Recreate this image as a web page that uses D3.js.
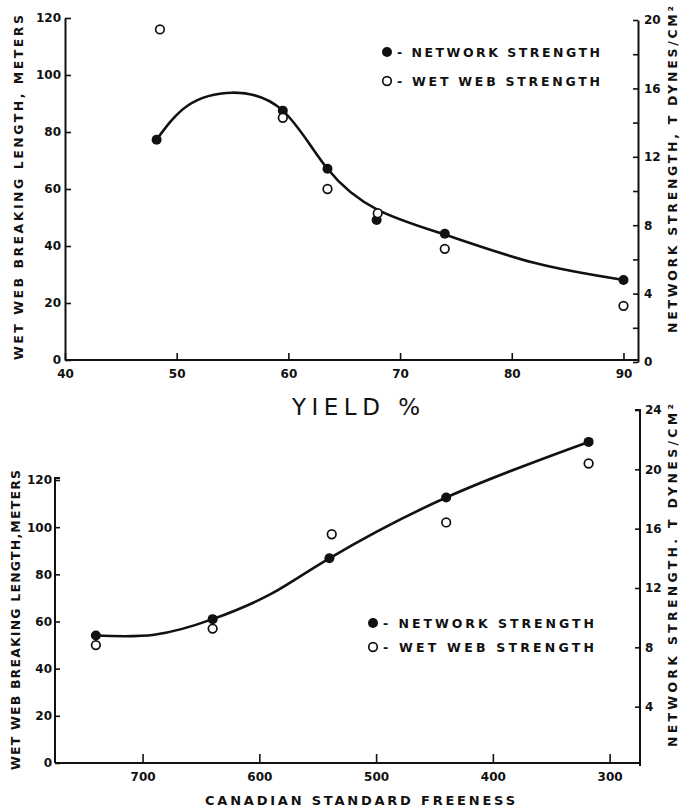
<!DOCTYPE html>
<html>
<head>
<meta charset="utf-8">
<script src="https://cdn.jsdelivr.net/npm/d3@7"></script>
<style>
  body { margin: 0; background: #fff; }
  svg { display: block; }
  .tick text { font-family: "DejaVu Sans", sans-serif; font-weight: bold; font-size: 12px; fill: #111; }
  .title { font-family: "DejaVu Sans", sans-serif; font-weight: bold; fill: #111; }
</style>
</head>
<body>
<div id="chart"></div>
<script>
// ---- top panel: yield % ----
const yieldPts = [48.2, 59.5, 63.5, 67.9, 74, 90];
const yieldNetwork = [13.0, 14.7, 11.3, 8.3, 7.5, 4.8];       // dynes/cm2 (filled)
const yieldWetX = [48.5, 59.5, 63.5, 68, 74, 90];
const yieldWetWeb = [116, 85, 60, 51.5, 39, 19];              // meters (open)
// hand drawn fit line
const yieldCurveX = [48.2, 51, 55, 59.5, 63.5, 68, 74, 82, 90];
const yieldCurveY = [13.0, 15.0, 15.75, 14.7, 11.3, 8.9, 7.45, 5.8, 4.8];

// ---- bottom panel: freeness ----
const freenessPts = [740, 640, 540, 440, 318];
const freeNetwork = [8.8, 9.9, 14.0, 18.1, 21.85];            // dynes/cm2 (filled)
const freeWetX = [740, 640, 538, 440, 318];
const freeWetWeb = [50, 57, 97, 102, 127];                     // meters (open)
const freeCurveX = [740, 690, 640, 590, 540, 440, 318];
const freeCurveY = [8.8, 8.85, 9.9, 11.6, 14.0, 18.1, 21.85];

const topXTicks = [40, 50, 60, 70, 80, 90];
const topLeftTicks = [0, 20, 40, 60, 80, 100, 120];
const topRightTicks = [0, 2, 4, 6, 8, 10, 12, 14, 16, 18, 20];
const botXTicks = [700, 600, 500, 400, 300];
const botLeftTicks = [0, 20, 40, 60, 80, 100, 120];
const botRightTicks = [4, 8, 12, 16, 20, 24];

const width = 682, height = 809;

const svg = d3.select("#chart").append("svg")
  .attr("width", width)
  .attr("height", height);

// scales
const xTop = d3.scaleLinear().domain([40, 91.3]).range([65, 638]);
const yTopL = d3.scaleLinear().domain([0, 120]).range([360, 18]);
const yTopR = d3.scaleLinear().domain([0, 20]).range([362, 20]);

const xBot = d3.scaleLinear().domain([775, 274]).range([55, 640]);
const yBotL = d3.scaleLinear().domain([0, 120]).range([763, 480]);
const yBotR = d3.scaleLinear().domain([0, 24]).range([766, 410]);

function styleAxis(g) {
  g.select(".domain").attr("stroke", "#111").attr("stroke-width", 2);
  g.selectAll(".tick line").attr("stroke", "#111").attr("stroke-width", 1.6);
}

// ---- top axes ----
svg.append("g")
  .attr("transform", "translate(0,360)")
  .call(d3.axisBottom(xTop).tickValues(topXTicks).tickSizeInner(-7).tickSizeOuter(0).tickPadding(9))
  .call(styleAxis)
  .call(g => g.select(".domain").attr("d", "M65,0H638"));

svg.append("g")
  .attr("transform", "translate(65,0)")
  .call(d3.axisLeft(yTopL).tickValues(topLeftTicks).tickSizeInner(-6).tickSizeOuter(0).tickPadding(4))
  .call(styleAxis);

svg.append("g")
  .attr("transform", "translate(638,0)")
  .call(d3.axisRight(yTopR).tickValues(topRightTicks).tickSizeInner(-5).tickSizeOuter(0).tickPadding(6)
    .tickFormat(d => d % 4 === 0 ? d : ""))
  .call(styleAxis);

// ---- bottom axes ----
svg.append("g")
  .attr("transform", "translate(0,763)")
  .call(d3.axisBottom(xBot).tickValues(botXTicks).tickSizeInner(-9).tickSizeOuter(0).tickPadding(9))
  .call(styleAxis)
  .call(g => g.select(".domain").attr("d", "M55,0H640"));

svg.append("g")
  .attr("transform", "translate(55,0)")
  .call(d3.axisLeft(yBotL).tickValues(botLeftTicks).tickSizeInner(-5).tickSizeOuter(0).tickPadding(3))
  .call(styleAxis)
  .call(g => g.select(".domain").attr("d", "M0,763V478H5"));

svg.append("g")
  .attr("transform", "translate(640,0)")
  .call(d3.axisRight(yBotR).tickValues(botRightTicks).tickSizeInner(-5).tickSizeOuter(0).tickPadding(5))
  .call(styleAxis)
  .call(g => g.select(".domain").attr("d", "M0,766V410H-5"));

// ---- curves ----
const topLine = d3.line()
  .x(d => xTop(d[0])).y(d => yTopR(d[1]))
  .curve(d3.curveNatural);
svg.append("path")
  .datum(d3.zip(yieldCurveX, yieldCurveY))
  .attr("d", topLine)
  .attr("fill", "none").attr("stroke", "#111").attr("stroke-width", 2.6);

const botLine = d3.line()
  .x(d => xBot(d[0])).y(d => yBotR(d[1]))
  .curve(d3.curveNatural);
svg.append("path")
  .datum(d3.zip(freeCurveX, freeCurveY))
  .attr("d", botLine)
  .attr("fill", "none").attr("stroke", "#111").attr("stroke-width", 2.6);

// ---- points ----
function filled(xs, ys, xs_, ys_) {
  svg.append("g").selectAll("circle")
    .data(d3.zip(xs, ys))
    .join("circle")
    .attr("cx", d => xs_(d[0])).attr("cy", d => ys_(d[1]))
    .attr("r", 5).attr("fill", "#111");
}
function open(xs, ys, xs_, ys_) {
  svg.append("g").selectAll("circle")
    .data(d3.zip(xs, ys))
    .join("circle")
    .attr("cx", d => xs_(d[0])).attr("cy", d => ys_(d[1]))
    .attr("r", 4.3).attr("fill", "#fff").attr("stroke", "#111").attr("stroke-width", 1.7);
}
filled(yieldPts, yieldNetwork, xTop, yTopR);
open(yieldWetX, yieldWetWeb, xTop, yTopL);
filled(freenessPts, freeNetwork, xBot, yBotR);
open(freeWetX, freeWetWeb, xBot, yBotL);

// ---- legends ----
function legend(x, y1, y2, len) {
  svg.append("circle").attr("cx", x).attr("cy", y1 - 5).attr("r", 5).attr("fill", "#111");
  svg.append("circle").attr("cx", x).attr("cy", y2 - 5).attr("r", 4.3)
    .attr("fill", "#fff").attr("stroke", "#111").attr("stroke-width", 1.7);
  svg.append("text").attr("class", "title").attr("x", x + 10).attr("y", y1)
    .attr("font-size", 12.5).attr("textLength", len).attr("lengthAdjust", "spacing")
    .text("- NETWORK STRENGTH");
  svg.append("text").attr("class", "title").attr("x", x + 10).attr("y", y2)
    .attr("font-size", 12.5).attr("textLength", len).attr("lengthAdjust", "spacing")
    .text("- WET WEB STRENGTH");
}
legend(387, 57, 86, 203);
legend(373, 628, 652, 211);

// ---- axis titles ----
function vTitle(x, yTop, yBottom, txt) {
  svg.append("text").attr("class", "title")
    .attr("transform", `translate(${x},${yBottom}) rotate(-90)`)
    .attr("font-size", 12.5)
    .attr("textLength", yBottom - yTop).attr("lengthAdjust", "spacing")
    .text(txt);
}
vTitle(23, 15, 360, "WET WEB BREAKING LENGTH, METERS");
vTitle(677, 6, 333, "NETWORK STRENGTH, T DYNES/CM²");
vTitle(20, 470, 770, "WET WEB BREAKING LENGTH,METERS");
vTitle(677, 404, 747, "NETWORK STRENGTH. T DYNES/CM²");

svg.append("text")
  .attr("x", 292).attr("y", 415)
  .attr("font-family", "DejaVu Sans, sans-serif")
  .attr("font-size", 23).attr("fill", "#111")
  .attr("textLength", 128).attr("lengthAdjust", "spacing")
  .text("YIELD %");

svg.append("text").attr("class", "title")
  .attr("x", 205).attr("y", 805)
  .attr("font-size", 13)
  .attr("textLength", 310).attr("lengthAdjust", "spacing")
  .text("CANADIAN STANDARD FREENESS");
</script>
</body>
</html>
